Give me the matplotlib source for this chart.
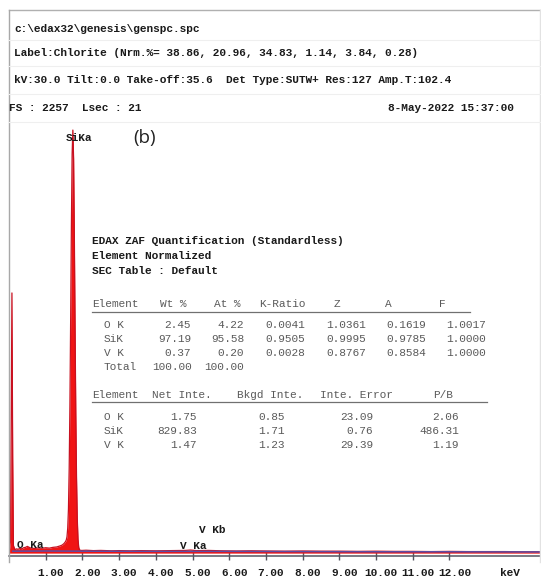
import matplotlib
matplotlib.use("Agg")
import matplotlib.pyplot as plt
from matplotlib.lines import Line2D
from matplotlib.transforms import ScaledTranslation

# ---------------- data ----------------
header_lines = [
    "c:\\edax32\\genesis\\genspc.spc",
    "Label:Chlorite (Nrm.%= 38.86, 20.96, 34.83, 1.14, 3.84, 0.28)",
    "kV:30.0 Tilt:0.0 Take-off:35.6  Det Type:SUTW+ Res:127 Amp.T:102.4",
]
fs_text = "FS : 2257  Lsec : 21"
date_text = "8-May-2022 15:37:00"
full_scale = 2257

energy_kev = [0.00, 0.04, 0.06, 0.08, 0.10, 0.12, 0.16, 0.20, 0.25, 0.30, 0.35,
              0.40, 0.45, 0.50, 0.55, 0.60, 0.70, 0.80, 0.90, 1.00, 1.10, 1.20,
              1.30, 1.40, 1.45, 1.50, 1.54, 1.56, 1.58, 1.60, 1.62, 1.64, 1.66,
              1.68, 1.70, 1.72, 1.74, 1.76, 1.78, 1.80, 1.82, 1.84, 1.86, 1.88,
              1.90, 1.92, 1.94, 1.96, 2.00, 2.10, 2.30, 2.50, 2.80, 3.00, 3.30,
              3.60, 4.00, 4.40, 4.80, 4.95, 5.10, 5.43, 5.80, 6.20, 6.60, 7.00,
              7.50, 8.00, 8.50, 9.00, 9.50, 10.0, 10.5, 11.0, 11.5, 12.0, 12.5,
              13.0, 13.5, 14.0, 14.5]
counts = [0, 60, 700, 1353, 500, 40, 18, 22, 20, 25, 22,
          28, 30, 35, 30, 26, 24, 27, 25, 28, 26, 30,
          32, 38, 42, 50, 60, 68, 85, 130, 230, 440, 770,
          1220, 1700, 2075, 2200, 2050, 1665, 1180, 725, 390, 180, 72,
          30, 18, 15, 14, 14, 15, 13, 14, 12, 13, 12,
          13, 12, 13, 14, 16, 13, 14, 12, 11, 12, 11,
          10, 11, 10, 10, 9, 10, 9, 9, 8, 9, 8,
          8, 8, 7, 7]

bg_kev = [0.10, 1.0, 2.0, 4.0, 6.0, 8.0, 10.0, 12.0, 14.5]
bg_counts = [10, 11, 10, 9, 9, 8, 7, 7, 6]

tick_vals = [1, 2, 3, 4, 5, 6, 7, 8, 9, 10, 11, 12]
tick_labels = ["1.00", "2.00", "3.00", "4.00", "5.00", "6.00", "7.00",
               "8.00", "9.00", "10.00", "11.00", "12.00"]

peak_labels = ["SiKa", "O Ka", "V Ka", "V Kb"]

table_title = ["EDAX ZAF Quantification (Standardless)",
               "Element Normalized",
               "SEC Table : Default"]
t1_headers = ["Element", "Wt %", "At %", "K-Ratio", "Z", "A", "F"]
t1_elements = ["O K", "SiK", "V K"]
t1_wt = ["2.45", "97.19", "0.37"]
t1_at = ["4.22", "95.58", "0.20"]
t1_kratio = ["0.0041", "0.9505", "0.0028"]
t1_z = ["1.0361", "0.9995", "0.8767"]
t1_a = ["0.1619", "0.9785", "0.8584"]
t1_f = ["1.0017", "1.0000", "1.0000"]
t1_total = ["Total", "100.00", "100.00"]

t2_headers = ["Element", "Net Inte.", "Bkgd Inte.", "Inte. Error", "P/B"]
t2_elements = ["O K", "SiK", "V K"]
t2_net = ["1.75", "829.83", "1.47"]
t2_bkgd = ["0.85", "1.71", "1.23"]
t2_err = ["23.09", "0.76", "29.39"]
t2_pb = ["2.06", "486.31", "1.19"]

# ---------------- figure ----------------
W, H = 541, 580
fig = plt.figure(figsize=(W / 100, H / 100), dpi=100)
fig.patch.set_facecolor("white")


def fx(x):
    return x / W


def fy(y):
    return 1 - y / H


MONO = "Liberation Mono"


def txt(x, y, s, ha="left", bold=False, color="#1a1a1a", size=8, family=MONO):
    fig.text(fx(x), fy(y), s, ha=ha, va="center", fontsize=size,
             fontfamily=family, fontweight="bold" if bold else "normal",
             color=color)


def hline(y, x0, x1, color, lw=1.0):
    fig.add_artist(Line2D([fx(x0), fx(x1)], [fy(y), fy(y)], color=color, lw=lw,
                          transform=fig.transFigure))


def vline(x, y0, y1, color, lw=1.0):
    fig.add_artist(Line2D([fx(x), fx(x)], [fy(y0), fy(y1)], color=color, lw=lw,
                          transform=fig.transFigure))


hline(10, 9, 541, "#b0b0b0")
vline(9, 10, 562, "#a8a8a8")
vline(540, 10, 562, "#e2e2e2")
for yy in [40, 66, 94, 122]:
    hline(yy, 9, 541, "#efefef", 0.8)

# header text
txt(14, 29, header_lines[0], bold=True)
txt(14, 53, header_lines[1], bold=True)
txt(14, 80, header_lines[2], bold=True)
txt(9, 108, fs_text, bold=True)
txt(514, 108, date_text, ha="right", bold=True)

# ---------------- spectrum axes ----------------
x0_px, x1_px = 9, 541
y_top_px, y_bot_px = 122, 556
ax = fig.add_axes([fx(x0_px), fy(y_bot_px), (x1_px - x0_px) / W,
                   (y_bot_px - y_top_px) / H])
ax.set_facecolor("none")
ax.set_xlim(0, (x1_px - x0_px) / 36.7)
ax.set_ylim(-15, full_scale - 15)

ax.fill_between(energy_kev, counts, 0, color="#f01414", lw=0, zorder=2)
ax.plot(energy_kev, counts, color="#c81020", lw=0.9, zorder=3)
ax.plot(bg_kev, bg_counts, color="#5a4ea6", lw=1.1, zorder=4)

for s in ["left", "right", "top"]:
    ax.spines[s].set_visible(False)
ax.spines["bottom"].set_color("#555560")
ax.spines["bottom"].set_linewidth(1.1)
ax.set_yticks([])
ax.set_xticks(tick_vals)
ax.set_xticklabels(tick_labels, fontfamily=MONO, fontweight="bold", fontsize=8,
                   color="#1a1a1a")
ax.tick_params(axis="x", direction="inout", length=6, width=1,
               color="#555560", pad=6)
offset = ScaledTranslation(5 / 100, 0, fig.dpi_scale_trans)
for lab in ax.get_xticklabels():
    lab.set_transform(lab.get_transform() + offset)

txt(510, 573, "keV", ha="center", bold=True)

# peak labels
txt(66, 138, peak_labels[0], bold=True)
txt(17, 545, peak_labels[1], bold=True)
txt(180, 546, peak_labels[2], bold=True)
txt(199, 530, peak_labels[3], bold=True)
txt(145, 138, "(b)", ha="center", size=13.5, family="Open Sans", color="#222222")

# ---------------- quantification table ----------------
txt(92, 241, table_title[0], bold=True)
txt(92, 256, table_title[1], bold=True)
txt(92, 271, table_title[2], bold=True)

GRAY = "#5a5a5a"
hy = 304
txt(92, hy, t1_headers[0], color=GRAY)
txt(160, hy, t1_headers[1], color=GRAY)
txt(214, hy, t1_headers[2], color=GRAY)
txt(259, hy, t1_headers[3], color=GRAY)
txt(337, hy, t1_headers[4], ha="center", color=GRAY)
txt(388, hy, t1_headers[5], ha="center", color=GRAY)
txt(442, hy, t1_headers[6], ha="center", color=GRAY)
hline(312, 92, 470, "#707070", 0.9)

rows_y = [325, 339, 353]
for i, yy in enumerate(rows_y):
    txt(104, yy, t1_elements[i], color=GRAY)
    txt(191, yy, t1_wt[i], ha="right", color=GRAY)
    txt(244, yy, t1_at[i], ha="right", color=GRAY)
    txt(305, yy, t1_kratio[i], ha="right", color=GRAY)
    txt(366, yy, t1_z[i], ha="right", color=GRAY)
    txt(426, yy, t1_a[i], ha="right", color=GRAY)
    txt(486, yy, t1_f[i], ha="right", color=GRAY)
txt(104, 367, t1_total[0], color=GRAY)
txt(192, 367, t1_total[1], ha="right", color=GRAY)
txt(244, 367, t1_total[2], ha="right", color=GRAY)

hy2 = 395
txt(92, hy2, t2_headers[0], color=GRAY)
txt(152, hy2, t2_headers[1], color=GRAY)
txt(237, hy2, t2_headers[2], color=GRAY)
txt(320, hy2, t2_headers[3], color=GRAY)
txt(433, hy2, t2_headers[4], color=GRAY)
hline(402, 92, 487, "#707070", 0.9)

rows2_y = [417, 431, 445]
for i, yy in enumerate(rows2_y):
    txt(104, yy, t2_elements[i], color=GRAY)
    txt(197, yy, t2_net[i], ha="right", color=GRAY)
    txt(285, yy, t2_bkgd[i], ha="right", color=GRAY)
    txt(373, yy, t2_err[i], ha="right", color=GRAY)
    txt(459, yy, t2_pb[i], ha="right", color=GRAY)

fig.savefig("out.png", dpi=100, facecolor="white")
